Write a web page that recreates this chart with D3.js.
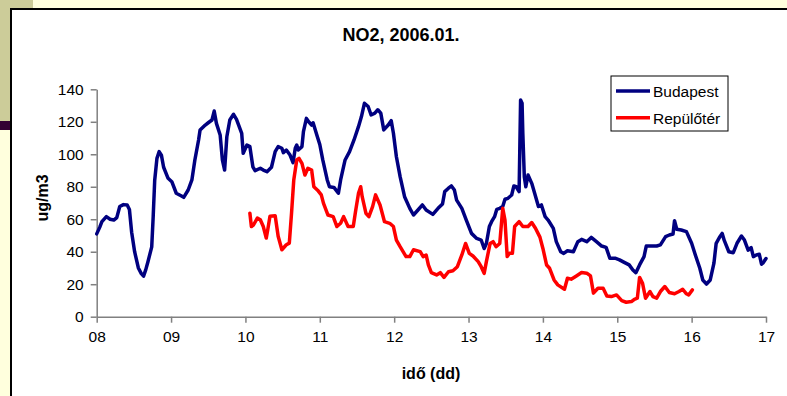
<!DOCTYPE html>
<html>
<head>
<meta charset="utf-8">
<script src="https://cdn.jsdelivr.net/npm/d3@7"></script>
<style>
  body { margin: 0; background: #ffffdd; }
  svg { display: block; font-family: "Liberation Sans", Arial, sans-serif; }
</style>
</head>
<body>
<svg id="main_svg" width="787" height="396"></svg>
<script>
// day of January 2006 (decimal) and NO2 concentration (ug/m3)
const budapestDays = [8.00,8.04,8.07,8.13,8.18,8.23,8.27,8.31,8.36,8.41,8.44,8.47,8.51,8.56,8.60,8.63,8.66,8.69,8.74,8.76,8.78,8.81,8.84,8.87,8.90,8.96,9.01,9.07,9.14,9.17,9.23,9.28,9.32,9.37,9.39,9.46,9.50,9.55,9.58,9.61,9.66,9.69,9.72,9.75,9.79,9.84,9.88,9.95,9.97,10.02,10.06,10.10,10.13,10.20,10.24,10.29,10.35,10.40,10.44,10.49,10.51,10.55,10.60,10.64,10.67,10.69,10.71,10.76,10.78,10.82,10.85,10.89,10.91,10.96,11.00,11.04,11.10,11.13,11.19,11.25,11.28,11.34,11.40,11.46,11.52,11.56,11.60,11.65,11.69,11.74,11.78,11.82,11.86,11.92,11.96,11.99,12.03,12.08,12.14,12.21,12.26,12.32,12.38,12.43,12.52,12.59,12.65,12.68,12.73,12.77,12.81,12.84,12.91,12.97,13.04,13.11,13.17,13.21,13.24,13.28,13.31,13.35,13.38,13.42,13.46,13.49,13.53,13.58,13.61,13.64,13.68,13.69,13.70,13.72,13.73,13.75,13.77,13.80,13.85,13.89,13.94,13.98,14.03,14.07,14.14,14.18,14.24,14.28,14.33,14.41,14.47,14.52,14.59,14.65,14.72,14.79,14.85,14.90,14.97,15.03,15.10,15.16,15.21,15.25,15.30,15.36,15.39,15.46,15.53,15.58,15.65,15.70,15.75,15.77,15.80,15.86,15.93,16.00,16.05,16.11,16.15,16.20,16.25,16.30,16.33,16.38,16.41,16.44,16.50,16.56,16.61,16.67,16.71,16.76,16.80,16.83,16.87,16.91,16.94,16.96,17.00];
const budapestNO2 = [51,55,58.5,61.6,60,59.5,61,67.8,69,68.8,66,52,40,30,26.5,25,29,34,43,62,84,97.5,101.6,99.5,92,85.2,83.1,76,74.3,73.5,78,84.2,96.5,108.8,114.9,118,119.4,121.1,126.6,119,111.9,96.5,90.3,110.8,121.1,124.6,121.5,112.9,100.6,105.7,104.7,92.3,89.9,91.4,90.3,89.3,92,101.6,104.7,103.7,101,102.6,99.5,94.8,103.7,105.7,102.6,104.7,113.9,122.1,120,118,119.4,111.9,106,96.5,84.2,80,79.6,76,84.2,96.5,101.6,108.8,117,123.2,131.4,129.4,124.2,125.3,127.4,125.3,115,118,120.7,112.9,98.5,86.2,73.9,66.7,62.6,65.7,68.8,65.7,63,66.7,69.4,77,79.1,80.5,78,71.8,66.7,59.5,51.3,48.2,47.2,42,45.1,55.5,58.5,61.6,66.1,66.7,67.8,72.3,72.9,74.9,80.5,80,77,104.7,133.4,131.4,112.9,86.2,80,87.2,82.1,75.9,67.8,68.8,61.6,59.5,54.4,46.2,40,39,40.6,40,46.2,47.6,46.2,48.8,46.2,43.5,42.7,36,36,35,33.3,31.9,28.8,27.1,31.9,37,43.5,43.5,43.5,44.2,49.3,50.3,50.9,59.1,53.8,53.4,52.4,45.2,38,29.8,22.6,20.1,22.6,33,45.2,49.3,51.3,46.8,40,39.4,45.2,49.7,47.2,41,42.5,37,38,38.4,32.3,33.1,35.8];

const airportDays = [10.06,10.08,10.11,10.16,10.20,10.24,10.28,10.30,10.33,10.40,10.44,10.49,10.55,10.59,10.62,10.65,10.69,10.72,10.76,10.80,10.84,10.89,10.92,10.97,11.02,11.05,11.11,11.18,11.23,11.28,11.32,11.38,11.45,11.48,11.52,11.55,11.57,11.62,11.66,11.71,11.75,11.81,11.87,11.94,11.99,12.03,12.08,12.16,12.21,12.26,12.35,12.39,12.43,12.46,12.50,12.57,12.62,12.67,12.73,12.79,12.85,12.91,12.96,13.01,13.06,13.13,13.17,13.21,13.24,13.29,13.33,13.37,13.42,13.46,13.49,13.52,13.55,13.59,13.62,13.68,13.73,13.80,13.85,13.90,13.96,14.00,14.05,14.09,14.15,14.20,14.29,14.33,14.38,14.45,14.52,14.59,14.64,14.68,14.74,14.81,14.86,14.92,14.99,15.06,15.12,15.19,15.23,15.27,15.30,15.34,15.38,15.44,15.48,15.53,15.58,15.64,15.70,15.77,15.83,15.88,15.93,15.96,16.01];
const airportNO2 = [63.7,55.5,56.6,60.7,59.7,55.5,48.4,53.5,61.8,62.2,49.5,41.2,44.3,45.3,63.7,84.2,96.5,97.5,94.4,87.2,91.4,90.3,80,77.9,75,69.8,62.6,61.6,55.5,57.5,61.6,55.5,55.5,64.6,75.9,80,73.9,63.7,61.6,67.8,75,68.8,58.5,57.5,55.5,47.2,43.1,37,37,41.2,40.1,37,38,31.9,27.1,25.7,27.1,24.2,27.7,28.3,30.8,38,45.1,39,37.4,33.9,30.8,26.7,33.9,45.1,46.2,43.1,45.1,66.7,59.5,37,39,39,55.5,58.5,55.5,55.5,58,54.5,49,42,31.8,29.8,22.6,19.6,16.9,23.7,23.1,25.1,27.2,26.8,25.1,14.5,17.5,17.5,12.8,12.4,13.4,9.9,8.9,9.3,10.7,11.4,24.2,20.6,11.4,15.5,12.4,11.4,15.5,18.6,14.9,14.1,15.5,16.9,14.1,13.4,16.5];

const dayTicks = [8, 9, 10, 11, 12, 13, 14, 15, 16, 17];
const valueTicks = [0, 20, 40, 60, 80, 100, 120, 140];

const seriesNames = ["Budapest", "Repülőtér"];
const seriesColors = ["#000080", "#ff0000"];

const svg = d3.select("#main_svg");
const width = 787;
const height = 396;

// slide decoration behind the chart
svg.append("rect").attr("x", 0).attr("y", 0).attr("width", width).attr("height", height).attr("fill", "#ffffdd");
svg.append("rect").attr("x", 0).attr("y", 0).attr("width", 33).attr("height", 121).attr("fill", "#cccc99");
svg.append("rect").attr("x", 0).attr("y", 121).attr("width", 12).attr("height", 9).attr("fill", "#330033");
svg.append("rect")
  .attr("x", 11).attr("y", 9)
  .attr("width", width).attr("height", height)
  .attr("fill", "#ffffff")
  .attr("stroke", "#000")
  .attr("stroke-width", 2);

const x = d3.scaleLinear().domain([8, 17]).range([96.7, 766]);
const y = d3.scaleLinear().domain([0, 140]).range([316.7, 89.3]);

const xAxis = g =>
  g.attr("transform", `translate(0,${y(0)})`).call(
    d3.axisBottom(x)
      .tickValues(dayTicks)
      .tickFormat(d3.format("02d"))
      .tickSize(6)
      .tickSizeOuter(0)
      .tickPadding(8)
  );

const yAxis = g =>
  g.attr("transform", `translate(${x(8)},0)`).call(
    d3.axisLeft(y)
      .tickValues(valueTicks)
      .tickSize(6)
      .tickSizeOuter(0)
      .tickPadding(7)
  );

[xAxis, yAxis].forEach(ax => {
  const g = svg.append("g").call(ax);
  g.selectAll("path, line").attr("stroke", "#808080").attr("stroke-width", 1.5);
  g.selectAll("text").attr("fill", "#000").style("font-size", "15.5px");
});

const line = d3.line()
  .x(d => x(d[0]))
  .y(d => y(d[1]));

const series = [
  d3.zip(budapestDays, budapestNO2),
  d3.zip(airportDays, airportNO2)
];

svg.append("g")
  .selectAll("path")
  .data(series)
  .enter()
  .append("path")
  .attr("d", line)
  .attr("fill", "none")
  .attr("stroke", (d, i) => seriesColors[i])
  .attr("stroke-width", 3.5)
  .attr("stroke-linejoin", "round")
  .attr("stroke-linecap", "round");

// titles
svg.append("text")
  .attr("x", 401).attr("y", 41)
  .attr("text-anchor", "middle")
  .style("font-size", "18px").style("font-weight", "bold")
  .text("NO2, 2006.01.");

svg.append("text")
  .attr("x", 431).attr("y", 379)
  .attr("text-anchor", "middle")
  .style("font-size", "16px").style("font-weight", "bold")
  .text("idő (dd)");

svg.append("text")
  .attr("transform", "translate(48,198) rotate(-90)")
  .attr("text-anchor", "middle")
  .style("font-size", "16px").style("font-weight", "bold")
  .text("ug/m3");

// legend
const legend = svg.append("g");
legend.append("rect")
  .attr("x", 611).attr("y", 76)
  .attr("width", 117).attr("height", 55)
  .attr("fill", "#fff").attr("stroke", "#000").attr("stroke-width", 1);

const items = legend.selectAll("g.item")
  .data(seriesNames)
  .enter()
  .append("g")
  .attr("transform", (d, i) => `translate(0,${91 + i * 26.7})`);

items.append("line")
  .attr("x1", 616).attr("x2", 650)
  .attr("stroke", (d, i) => seriesColors[i])
  .attr("stroke-width", 3.5);

items.append("text")
  .attr("x", 653).attr("y", 6)
  .style("font-size", "15.5px")
  .text(d => d);
</script>
</body>
</html>
